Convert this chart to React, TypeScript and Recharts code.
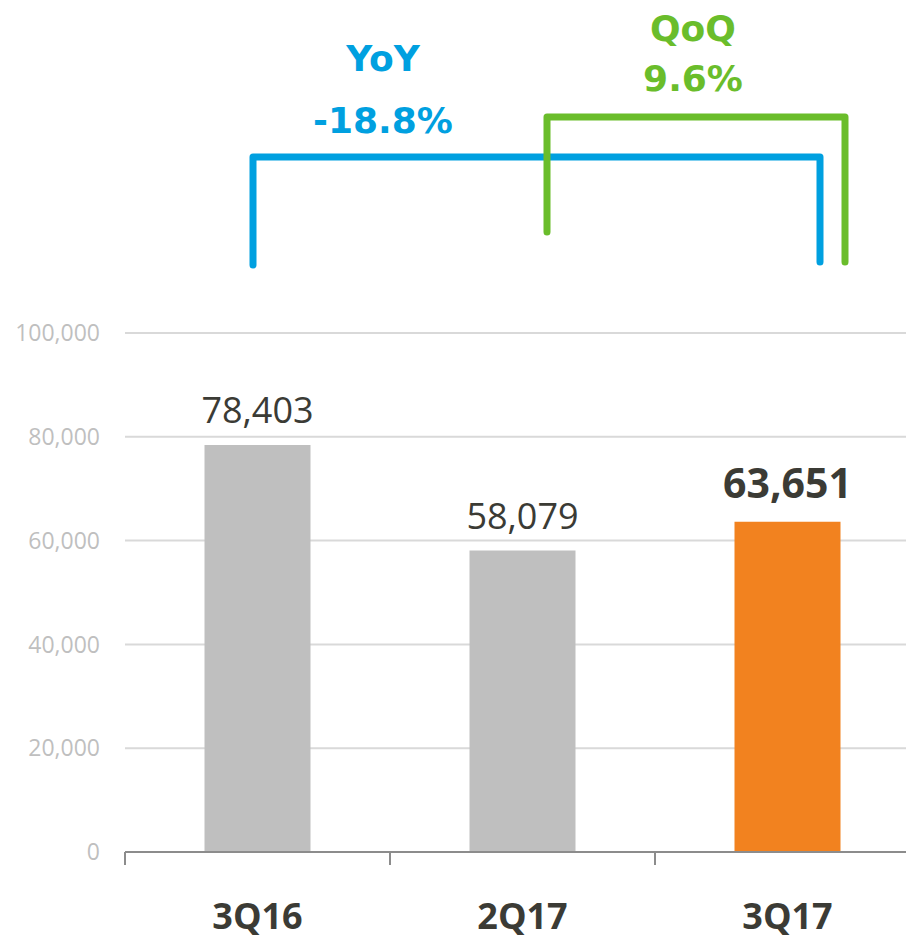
import { BarChart, Bar, XAxis, YAxis, CartesianGrid, Cell, LabelList } from "recharts";

const quarters = ["3Q16", "2Q17", "3Q17"];
const volumes = [78403, 58079, 63651];
const barColors = ["#bfbfbf", "#bfbfbf", "#f2821f"];
const yTicks = [0, 20000, 40000, 60000, 80000, 100000];

const yoyLabel = "YoY";
const yoyValue = "-18.8%";
const qoqLabel = "QoQ";
const qoqValue = "9.6%";

const data = quarters.map((q, i) => ({ quarter: q, value: volumes[i] }));

const fmt = (v: number) => v.toLocaleString("en-US");

function ValueLabel(props: any) {
  const { x, y, width, value, index } = props;
  const last = index === volumes.length - 1;
  return (
    <text
      x={x + width / 2}
      y={y - (last ? 24 : 22)}
      textAnchor="middle"
      fill="#3b3b35"
      fontSize={last ? 41 : 36}
      fontWeight={last ? 700 : 400}
      fontFamily="'Open Sans', sans-serif"
    >
      {fmt(value)}
    </text>
  );
}

// category tick: mark sits on the band boundary, label in the middle
function QuarterTick(props: any) {
  const { x, y, payload } = props;
  const off = payload.offset ?? 0;
  return (
    <g>
      <line x1={x - off} x2={x - off} y1={y - 12} y2={y + 1} stroke="#8c8c8c" strokeWidth={2} />
      <text
        x={x}
        y={y + 65}
        textAnchor="middle"
        fill="#3b3b35"
        fontSize={36}
        fontWeight={700}
        fontFamily="'Open Sans', sans-serif"
      >
        {payload.value}
      </text>
    </g>
  );
}

export default function App() {
  return (
    <div
      style={{
        position: "absolute",
        left: 0,
        top: 0,
        width: 906,
        height: 939,
        overflow: "hidden",
        background: "#fff",
        fontFamily: "'Open Sans', sans-serif",
      }}
    >
      <BarChart
        width={920}
        height={939}
        data={data}
        margin={{ top: 333, right: 0, bottom: 7, left: 0 }}
        barCategoryGap="30%"
      >
        <CartesianGrid stroke="#d9d9d9" strokeWidth={2} vertical={false} />
        <XAxis
          dataKey="quarter"
          height={80}
          interval={0}
          axisLine={{ stroke: "#8c8c8c", strokeWidth: 2 }}
          tickLine={false}
          tickSize={12}
          tick={<QuarterTick />}
          tickMargin={0}
        />
        <YAxis
          width={125}
          domain={[0, 100000]}
          ticks={yTicks}
          tickFormatter={fmt}
          axisLine={false}
          tickLine={false}
          tickMargin={19}
          tick={{ fill: "#bfbfbf", fontSize: 23 }}
        />
        <Bar dataKey="value" isAnimationActive={false}>
          {data.map((d, i) => (
            <Cell key={d.quarter} fill={barColors[i]} />
          ))}
          <LabelList dataKey="value" content={ValueLabel} />
        </Bar>
      </BarChart>
      <svg
        width={906}
        height={300}
        style={{ position: "absolute", left: 0, top: 0 }}
        fontFamily="'DejaVu Sans', sans-serif"
      >
        <polyline
          points="253,265 253,157 820,157 820,262"
          fill="none"
          stroke="#00a0e0"
          strokeWidth={7}
          strokeLinejoin="round"
          strokeLinecap="round"
        />
        <polyline
          points="547,232 547,117 845,117 845,262"
          fill="none"
          stroke="#6abd2b"
          strokeWidth={7}
          strokeLinejoin="round"
          strokeLinecap="round"
        />
        <text x={383} y={71} textAnchor="middle" fill="#00a0e0" fontSize={36} fontWeight={700}>
          {yoyLabel}
        </text>
        <text x={383} y={133} textAnchor="middle" fill="#00a0e0" fontSize={36} fontWeight={700}>
          {yoyValue}
        </text>
        <text x={693} y={41} textAnchor="middle" fill="#6abd2b" fontSize={36} fontWeight={700}>
          {qoqLabel}
        </text>
        <text x={693} y={91} textAnchor="middle" fill="#6abd2b" fontSize={36} fontWeight={700}>
          {qoqValue}
        </text>
      </svg>
    </div>
  );
}
